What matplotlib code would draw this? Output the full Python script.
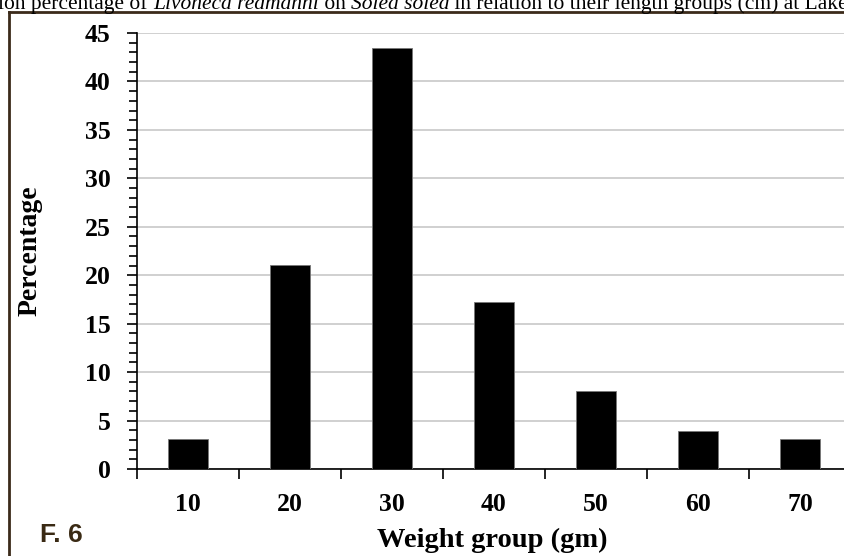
import matplotlib
matplotlib.use("Agg")
import matplotlib.pyplot as plt
from matplotlib.ticker import MultipleLocator

groups = ['10', '20', '30', '40', '50', '60', '70']
percent = [3.1, 21.1, 43.5, 17.2, 8.1, 3.9, 3.1]

yticks = [0, 5, 10, 15, 20, 25, 30, 35, 40, 45]

plt.rcParams['font.family'] = ['Liberation Serif', 'DejaVu Serif']

fig = plt.figure(figsize=(8.45, 5.56), dpi=100)
ax = fig.add_axes([137/845, 1-469/556, 714/845, 436/556])

pos = list(range(len(groups)))
ax.bar(pos, percent, width=0.39, color='black', edgecolor='#777777', linewidth=0.6, zorder=3)

ax.set_xlim(-0.5, 6.5)
ax.set_ylim(0, 45)
ax.set_yticks(yticks)
ax.yaxis.set_minor_locator(MultipleLocator(1))
ax.set_xticks(pos)
ax.set_xticklabels(groups)
ax.set_xticks([p + 0.5 for p in pos[:-1]] + [-0.5], minor=True)
ax.tick_params(axis='x', which='major', length=0, pad=17)
ax.tick_params(axis='x', which='minor', length=7, width=1.2, direction='out')
ax.tick_params(axis='y', which='major', length=7, width=1.2, pad=12)
ax.tick_params(axis='y', which='minor', length=6, width=1.2)
for lab in ax.get_xticklabels() + ax.get_yticklabels():
    lab.set_fontsize(18.5)
    lab.set_fontweight('bold')

ax.yaxis.grid(True, color='#c8c8c8', linewidth=1.2, zorder=0)
ax.set_axisbelow(True)
for s in ['top', 'right']:
    ax.spines[s].set_visible(False)
ax.spines['left'].set_linewidth(1.2)
ax.spines['bottom'].set_linewidth(1.2)

ax.set_ylabel('Percentage', fontsize=20, fontweight='bold')
ax.yaxis.set_label_coords(-94/714, 0.5)
fig.text(492/845, 1-540/556, 'Weight group (gm)', fontsize=20.5, fontweight='bold',
         ha='center', va='center')
fig.text(40/845, 1-535/556, 'F. 6', fontsize=19, fontweight='bold', color='#3a2a14',
         family='Liberation Sans', ha='left', va='center')

# outer frame lines
fig.add_artist(plt.Line2D([9/845, 9/845], [0, 1-12/556], color='#3b2a1a', linewidth=2,
                          transform=fig.transFigure))
fig.add_artist(plt.Line2D([9/845, 1], [1-12/556, 1-12/556], color='#3b2a1a', linewidth=2,
                          transform=fig.transFigure))

# clipped caption at the very top
pieces = [('ion percentage of ', 'normal'), ('Livoneca redmanni', 'italic'), (' on ', 'normal'),
          ('Solea solea', 'italic'), (' in relation to their length groups (cm) at Lake', 'normal')]
fig.canvas.draw()
r = fig.canvas.get_renderer()
x = -2
for txt, st in pieces:
    t = fig.text(x/845, 1-9/556, txt, fontsize=15.5, style=st, ha='left', va='baseline')
    x += t.get_window_extent(r).width

fig.savefig('out.png', dpi=100)
